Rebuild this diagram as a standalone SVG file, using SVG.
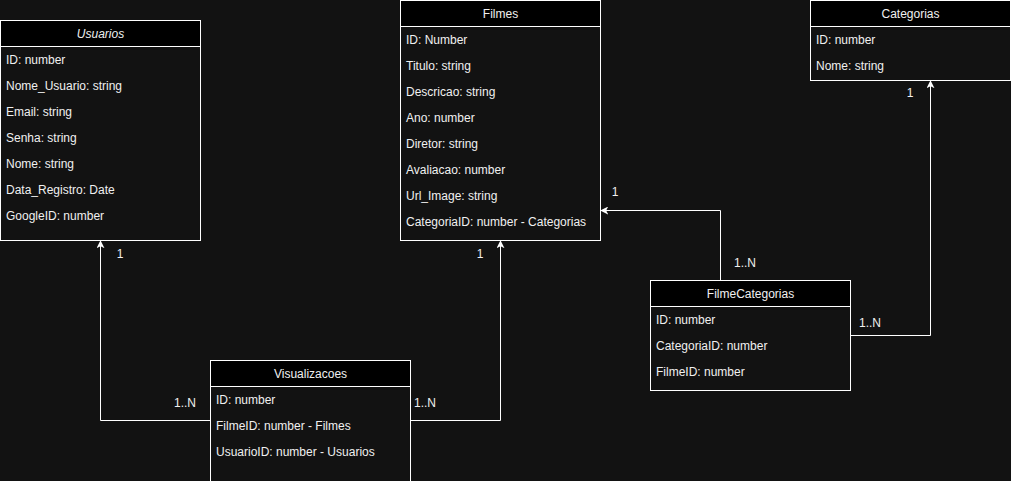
<svg xmlns="http://www.w3.org/2000/svg" width="1011" height="481" viewBox="0 0 1011 481">
<defs>
<style>
.box{fill:#121212;stroke:#ffffff;stroke-width:1}
.hdr{fill:#000000;stroke:#ffffff;stroke-width:1}
text{font-family:"Liberation Sans",Arial,Helvetica,sans-serif;font-size:12px;fill:#f0f0f0}
.t{text-anchor:middle}
.edge{fill:none;stroke:#ffffff;stroke-width:1}
</style>
<marker id="arr" viewBox="0 0 10 10" refX="9" refY="5" markerWidth="8" markerHeight="8" markerUnits="userSpaceOnUse" orient="auto">
<path d="M0,0 L10,5 L0,10 L2.5,5 Z" fill="#ffffff"/>
</marker>
</defs>
<rect x="0" y="0" width="1011" height="481" fill="#121212"/>
<g id="connectors">
<path class="edge" d="M210.5,420.5 H100.5 V241" marker-end="url(#arr)"/>
<path class="edge" d="M410.5,420.5 H500.5 V241" marker-end="url(#arr)"/>
<path class="edge" d="M720.5,280.5 V210.5 H601" marker-end="url(#arr)"/>
<path class="edge" d="M850.5,335.5 H930.5 V81" marker-end="url(#arr)"/>
<text x="120" y="258" class="t">1</text>
<text x="185" y="407" class="t">1..N</text>
<text x="480" y="258" class="t">1</text>
<text x="425" y="407" class="t">1..N</text>
<text x="615" y="196" class="t">1</text>
<text x="745" y="267" class="t">1..N</text>
<text x="910" y="97" class="t">1</text>
<text x="870" y="327" class="t">1..N</text>
</g>
<g id="usuarios">
<rect class="box" x="0.5" y="20.5" width="200" height="220"/>
<rect class="hdr" x="0.5" y="20.5" width="200" height="26"/>
<text x="100.5" y="38" class="t" font-style="italic">Usuarios</text>
<text x="6" y="64">ID: number</text>
<text x="6" y="90">Nome_Usuario: string</text>
<text x="6" y="116">Email: string</text>
<text x="6" y="142">Senha: string</text>
<text x="6" y="168">Nome: string</text>
<text x="6" y="194">Data_Registro: Date</text>
<text x="6" y="220">GoogleID: number</text>
</g>
<g id="filmes">
<rect class="box" x="400.5" y="0.5" width="200" height="240"/>
<rect class="hdr" x="400.5" y="0.5" width="200" height="26"/>
<text x="500.5" y="18" class="t">Filmes</text>
<text x="406" y="44">ID: Number</text>
<text x="406" y="70">Titulo: string</text>
<text x="406" y="96">Descricao: string</text>
<text x="406" y="122">Ano: number</text>
<text x="406" y="148">Diretor: string</text>
<text x="406" y="174">Avaliacao: number</text>
<text x="406" y="200">Url_Image: string</text>
<text x="406" y="226">CategoriaID: number - Categorias</text>
</g>
<g id="categorias">
<rect class="box" x="810.5" y="0.5" width="200" height="80"/>
<rect class="hdr" x="810.5" y="0.5" width="200" height="26"/>
<text x="910.5" y="18" class="t">Categorias</text>
<text x="816" y="44">ID: number</text>
<text x="816" y="70">Nome: string</text>
</g>
<g id="filmecategorias">
<rect class="box" x="650.5" y="280.5" width="200" height="110"/>
<rect class="hdr" x="650.5" y="280.5" width="200" height="26"/>
<text x="750.5" y="298" class="t">FilmeCategorias</text>
<text x="656" y="324">ID: number</text>
<text x="656" y="350">CategoriaID: number</text>
<text x="656" y="376">FilmeID: number</text>
</g>
<g id="visualizacoes">
<rect class="box" x="210.5" y="360.5" width="200" height="125"/>
<rect class="hdr" x="210.5" y="360.5" width="200" height="26"/>
<text x="310.5" y="378" class="t">Visualizacoes</text>
<text x="216" y="404">ID: number</text>
<text x="216" y="430">FilmeID: number - Filmes</text>
<text x="216" y="456">UsuarioID: number - Usuarios</text>
</g>
</svg>
